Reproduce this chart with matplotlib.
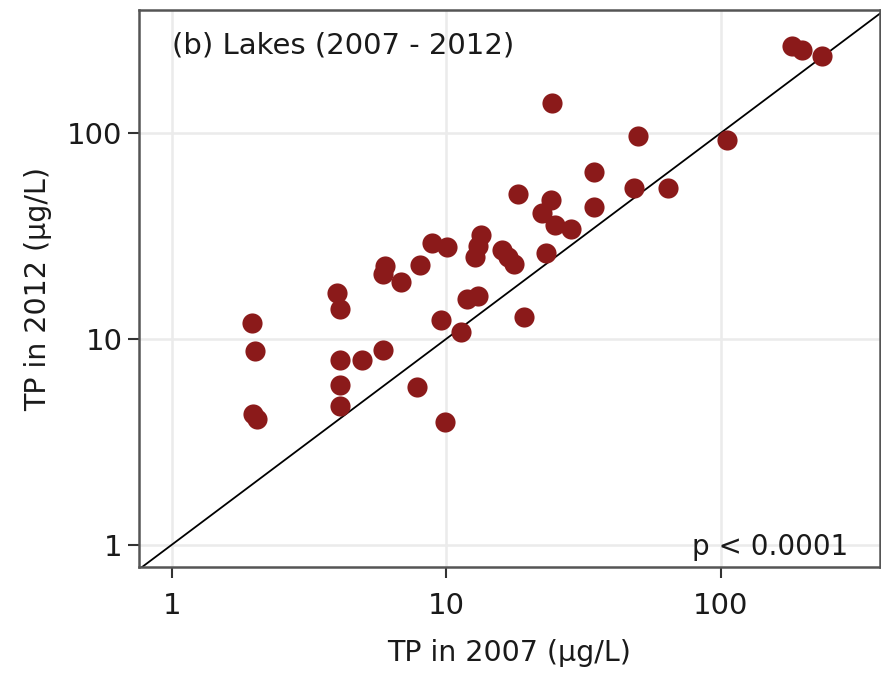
import matplotlib
matplotlib.use("Agg")
import matplotlib.pyplot as plt

# TP values (ug/L)
tp_2007 = [1.96, 2.01, 1.98, 2.05, 4.0, 4.1, 4.1, 4.93, 5.9, 4.1,
           4.1, 7.8, 9.9, 9.57, 11.3, 6.0, 5.9, 6.84, 8.0, 8.9,
           10.1, 13.4, 13.06, 12.7, 16.0, 16.8, 17.7, 11.9, 13.06, 19.2,
           18.3, 24.3, 24.1, 22.3, 24.9, 28.5, 23.1, 34.5, 34.5, 50.0,
           48.3, 64.3, 105.4, 181.8, 197.8, 233.9]
tp_2012 = [12.0, 8.7, 4.3, 4.1, 16.7, 14.0, 7.9, 7.9, 8.8, 6.0,
           4.7, 5.85, 3.96, 12.4, 10.8, 22.6, 20.7, 18.9, 22.9, 29.2,
           28.0, 32.0, 28.3, 25.0, 27.0, 25.0, 23.1, 15.6, 16.2, 12.8,
           50.6, 139.8, 47.3, 40.9, 35.8, 34.2, 26.2, 64.7, 43.7, 96.7,
           54.1, 54.1, 92.5, 264.4, 252.9, 236.5]

ticks = [1, 10, 100]
tick_labels = ["1", "10", "100"]

plt.rcParams['font.family'] = ['DejaVu Sans']

fig = plt.figure(figsize=(8.81, 6.73), dpi=100)
ax = fig.add_axes([0.1578, 0.1575, 0.8411, 0.8276])

ax.set_xscale("log")
ax.set_yscale("log")
ax.set_xlim(0.76, 380)
ax.set_ylim(0.78, 395)

ax.grid(True, which="major", color="#EBEBEB", linewidth=1.8)
ax.set_axisbelow(True)

# 1:1 line
ax.plot([0.5, 500], [0.5, 500], color="black", linewidth=1.3, zorder=2)

ax.plot(tp_2007, tp_2012, "o", color="#8B1A1A", markersize=14.5,
        markeredgewidth=0, zorder=3)

ax.set_xticks(ticks)
ax.set_xticklabels(tick_labels)
ax.set_yticks(ticks)
ax.set_yticklabels(tick_labels)
ax.minorticks_off()
ax.tick_params(axis="both", length=8, width=1.5, color="#333333",
               labelsize=21, labelcolor="#1a1a1a", pad=4)
ax.tick_params(axis="x", pad=10)

for s in ax.spines.values():
    s.set_color("#555555")
    s.set_linewidth(1.8)

ax.set_xlabel("TP in 2007 (µg/L)", fontsize=20.5, color="#1a1a1a", labelpad=14)
ax.set_ylabel("TP in 2012 (µg/L)", fontsize=20.5, color="#1a1a1a", labelpad=11)

ax.text(0.045, 0.962, "(b) Lakes (2007 - 2012)", transform=ax.transAxes,
        fontsize=21, color="#1a1a1a", ha="left", va="top")
ax.text(0.957, 0.036, "p < 0.0001", transform=ax.transAxes,
        fontsize=20, color="#1a1a1a", ha="right", va="center")

fig.savefig("out.png", dpi=100)
